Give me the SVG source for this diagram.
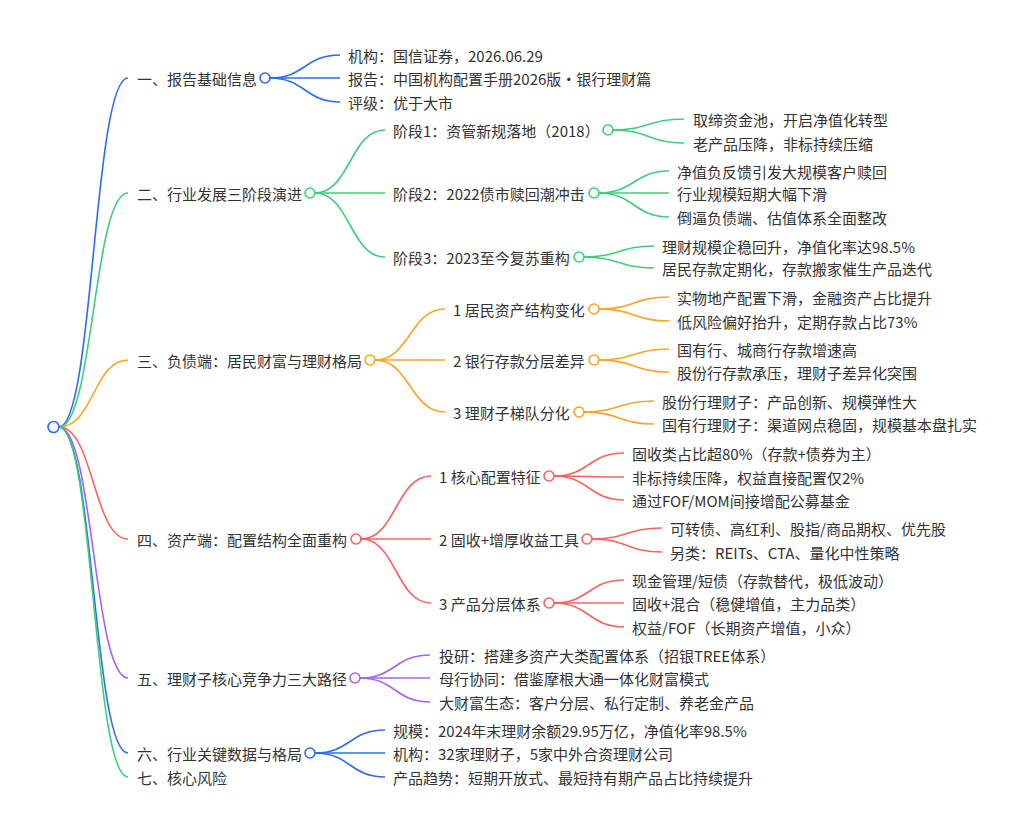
<svg xmlns="http://www.w3.org/2000/svg" width="1024" height="831" viewBox="0 0 1024 831">
<style>
text{font-family:"Noto Sans CJK SC","Noto Sans",sans-serif;font-size:15px;fill:#333;dominant-baseline:central}
path{fill:none;stroke-width:1.6}
circle{fill:#fff;stroke-width:1.6}
.b{stroke:#2e6bf5}.g{stroke:#3dcf78}.o{stroke:#ffa21f}.r{stroke:#ff5f5f}.p{stroke:#a463ee}
</style>
<rect width="1024" height="831" fill="#fff"/>
<g id="connectors">
<path class="b" d="M59,427 C93.5,427 93.5,78 128,78"/>
<path class="g" d="M59,427 C93.5,427 93.5,193 128,193"/>
<path class="o" d="M59,427 C93.5,427 93.5,360 128,360"/>
<path class="r" d="M59,427 C93.5,427 93.5,539 128,539"/>
<path class="p" d="M59,427 C93.5,427 93.5,678 128,678"/>
<path class="b" d="M59,427 C93.5,427 93.5,753 128,753"/>
<path class="g" d="M59,427 C93.5,427 93.5,777 128,777"/>

<path class="b" d="M270,78 C305,78 305,55 340,55"/>
<path class="b" d="M270,78 C305,78 305,78 340,78"/>
<path class="b" d="M270,78 C305,78 305,102 340,102"/>

<path class="g" d="M315,193 C350,193 350,130 385,130"/>
<path class="g" d="M315,193 C350,193 350,193 385,193"/>
<path class="g" d="M315,193 C350,193 350,257 385,257"/>
<path class="g" d="M613,130 C648.5,130 648.5,119 684,119"/>
<path class="g" d="M613,130 C648.5,130 648.5,143 684,143"/>
<path class="g" d="M599,193 C634,193 634,171 669,171"/>
<path class="g" d="M599,193 C634,193 634,193 669,193"/>
<path class="g" d="M599,193 C634,193 634,217 669,217"/>
<path class="g" d="M584,257 C619,257 619,246 654,246"/>
<path class="g" d="M584,257 C619,257 619,268 654,268"/>

<path class="o" d="M375,360 C410,360 410,309 445,309"/>
<path class="o" d="M375,360 C410,360 410,360 445,360"/>
<path class="o" d="M375,360 C410,360 410,412 445,412"/>
<path class="o" d="M599,309 C634,309 634,297 669,297"/>
<path class="o" d="M599,309 C634,309 634,321 669,321"/>
<path class="o" d="M599,360 C634,360 634,349 669,349"/>
<path class="o" d="M599,360 C634,360 634,372 669,372"/>
<path class="o" d="M584,412 C619,412 619,401 654,401"/>
<path class="o" d="M584,412 C619,412 619,424 654,424"/>

<path class="r" d="M361,539 C396,539 396,476 431,476"/>
<path class="r" d="M361,539 C396,539 396,539 431,539"/>
<path class="r" d="M361,539 C396,539 396,603 431,603"/>
<path class="r" d="M554,476 C589,476 589,453 624,453"/>
<path class="r" d="M554,476 C589,476 589,477 624,477"/>
<path class="r" d="M554,476 C589,476 589,500 624,500"/>
<path class="r" d="M592,539 C627,539 627,528 662,528"/>
<path class="r" d="M592,539 C627,539 627,552 662,552"/>
<path class="r" d="M554,603 C589,603 589,580 624,580"/>
<path class="r" d="M554,603 C589,603 589,603 624,603"/>
<path class="r" d="M554,603 C589,603 589,627 624,627"/>

<path class="p" d="M360,678 C395,678 395,655 430,655"/>
<path class="p" d="M360,678 C395,678 395,678 430,678"/>
<path class="p" d="M360,678 C395,678 395,702 430,702"/>

<path class="b" d="M315,753 C350,753 350,730 385,730"/>
<path class="b" d="M315,753 C350,753 350,753 385,753"/>
<path class="b" d="M315,753 C350,753 350,777 385,777"/>
</g>

<g id="root"><circle class="b" cx="53.5" cy="427" r="5.5"/></g>

<g id="n1">
<text x="137" y="78">一、报告基础信息</text><circle class="b" cx="265" cy="78" r="5"/>
</g>
<g id="n1-children">
<text x="348" y="55">机构：国信证券，2026.06.29</text>
<text x="348" y="78">报告：中国机构配置手册2026版・银行理财篇</text>
<text x="348" y="102">评级：优于大市</text>
</g>

<g id="n2">
<text x="137" y="193">二、行业发展三阶段演进</text><circle class="g" cx="310" cy="193" r="5"/>
</g>
<g id="n2-1"><text x="393" y="130">阶段1：资管新规落地（2018）</text><circle class="g" cx="608" cy="130" r="5"/>
<text x="693" y="119">取缔资金池，开启净值化转型</text>
<text x="693" y="143">老产品压降，非标持续压缩</text></g>
<g id="n2-2"><text x="393" y="193">阶段2：2022债市赎回潮冲击</text><circle class="g" cx="594" cy="193" r="5"/>
<text x="677" y="171">净值负反馈引发大规模客户赎回</text>
<text x="677" y="193">行业规模短期大幅下滑</text>
<text x="677" y="217">倒逼负债端、估值体系全面整改</text></g>
<g id="n2-3"><text x="393" y="257">阶段3：2023至今复苏重构</text><circle class="g" cx="579" cy="257" r="5"/>
<text x="662" y="246">理财规模企稳回升，净值化率达98.5%</text>
<text x="662" y="268">居民存款定期化，存款搬家催生产品迭代</text></g>

<g id="n3">
<text x="137" y="360">三、负债端：居民财富与理财格局</text><circle class="o" cx="370" cy="360" r="5"/>
</g>
<g id="n3-1"><text x="453" y="309">1 居民资产结构变化</text><circle class="o" cx="594" cy="309" r="5"/>
<text x="677" y="297">实物地产配置下滑，金融资产占比提升</text>
<text x="677" y="321">低风险偏好抬升，定期存款占比73%</text></g>
<g id="n3-2"><text x="453" y="360">2 银行存款分层差异</text><circle class="o" cx="594" cy="360" r="5"/>
<text x="677" y="349">国有行、城商行存款增速高</text>
<text x="677" y="372">股份行存款承压，理财子差异化突围</text></g>
<g id="n3-3"><text x="453" y="412">3 理财子梯队分化</text><circle class="o" cx="579" cy="412" r="5"/>
<text x="662" y="401">股份行理财子：产品创新、规模弹性大</text>
<text x="662" y="424">国有行理财子：渠道网点稳固，规模基本盘扎实</text></g>

<g id="n4">
<text x="137" y="539">四、资产端：配置结构全面重构</text><circle class="r" cx="356" cy="539" r="5"/>
</g>
<g id="n4-1"><text x="439" y="476">1 核心配置特征</text><circle class="r" cx="549" cy="476" r="5"/>
<text x="632" y="453">固收类占比超80%（存款+债券为主）</text>
<text x="632" y="477">非标持续压降，权益直接配置仅2%</text>
<text x="632" y="500">通过FOF/MOM间接增配公募基金</text></g>
<g id="n4-2"><text x="439" y="539">2 固收+增厚收益工具</text><circle class="r" cx="587" cy="539" r="5"/>
<text x="670" y="528">可转债、高红利、股指/商品期权、优先股</text>
<text x="670" y="552">另类：REITs、CTA、量化中性策略</text></g>
<g id="n4-3"><text x="439" y="603">3 产品分层体系</text><circle class="r" cx="549" cy="603" r="5"/>
<text x="632" y="580">现金管理/短债（存款替代，极低波动）</text>
<text x="632" y="603">固收+混合（稳健增值，主力品类）</text>
<text x="632" y="627">权益/FOF（长期资产增值，小众）</text></g>

<g id="n5">
<text x="137" y="678">五、理财子核心竞争力三大路径</text><circle class="p" cx="355" cy="678" r="5"/>
<text x="439" y="655">投研：搭建多资产大类配置体系（招银TREE体系）</text>
<text x="439" y="678">母行协同：借鉴摩根大通一体化财富模式</text>
<text x="439" y="702">大财富生态：客户分层、私行定制、养老金产品</text>
</g>

<g id="n6">
<text x="137" y="753">六、行业关键数据与格局</text><circle class="b" cx="310" cy="753" r="5"/>
<text x="393" y="730">规模：2024年末理财余额29.95万亿，净值化率98.5%</text>
<text x="393" y="753">机构：32家理财子，5家中外合资理财公司</text>
<text x="393" y="777">产品趋势：短期开放式、最短持有期产品占比持续提升</text>
</g>

<g id="n7"><text x="137" y="777">七、核心风险</text></g>
</svg>
